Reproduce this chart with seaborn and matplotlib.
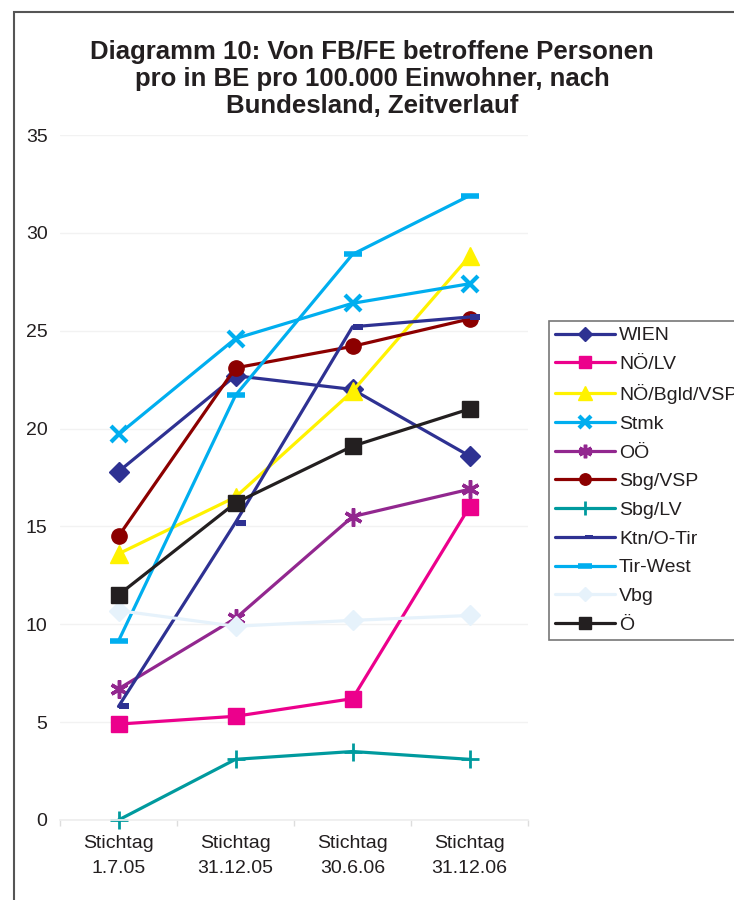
import numpy as np
import pandas as pd
import seaborn as sns
import matplotlib.pyplot as plt
from matplotlib.patches import Rectangle

# categories (x axis)
stichtage = ['Stichtag\n1.7.05', 'Stichtag\n31.12.05', 'Stichtag\n30.6.06', 'Stichtag\n31.12.06']

# series values
wien = [17.8, 22.7, 22.0, 18.6]
noe_lv = [4.9, 5.3, 6.2, 16.0]
noe_bgld_vsp = [13.6, 16.5, 21.9, 28.8]
stmk = [19.7, 24.6, 26.4, 27.4]
ooe = [6.7, 10.3, 15.5, 16.9]
sbg_vsp = [14.5, 23.1, 24.2, 25.6]
sbg_lv = [0.0, 3.1, 3.5, 3.1]
ktn_otir = [5.8, 15.2, 25.2, 25.7]
tir_west = [9.15, 21.7, 28.9, 31.9]
vbg = [10.7, 9.9, 10.2, 10.45]
oe = [11.5, 16.2, 19.1, 21.0]

series = {
    'WIEN': wien,
    'NÖ/LV': noe_lv,
    'NÖ/Bgld/VSP': noe_bgld_vsp,
    'Stmk': stmk,
    'OÖ': ooe,
    'Sbg/VSP': sbg_vsp,
    'Sbg/LV': sbg_lv,
    'Ktn/O-Tir': ktn_otir,
    'Tir-West': tir_west,
    'Vbg': vbg,
    'Ö': oe,
}

# dash marker that sits to the right of the point (as in the original)
half_dash = [(0, -0.28), (1, -0.28), (1, 0.28), (0, 0.28), (0, -0.28)]

# colour, marker, marker size, marker edge width
styles = {
    'WIEN': ('#2E3192', 'D', 10, 1),
    'NÖ/LV': ('#EC008C', 's', 11, 1),
    'NÖ/Bgld/VSP': ('#FFF200', '^', 13, 1),
    'Stmk': ('#00AEEF', 'x', 12, 3),
    'OÖ': ('#92278F', (6, 2, 0), 13, 2.5),
    'Sbg/VSP': ('#8C0000', 'o', 11, 1),
    'Sbg/LV': ('#009A9E', '+', 13, 2),
    'Ktn/O-Tir': ('#2E3192', half_dash, 15, 0),
    'Tir-West': ('#00AEEF', '_', 13, 4),
    'Vbg': ('#E6F2FB', 'D', 10, 1),
    'Ö': ('#231F20', 's', 11, 1),
}

df = pd.DataFrame(series)
df['x'] = np.arange(len(stichtage))
long = df.melt(id_vars='x', var_name='Bundesland', value_name='Wert')

sns.set_theme(style='white')
plt.rcParams['font.family'] = ['Liberation Sans', 'DejaVu Sans']

fig = plt.figure(figsize=(7.34, 9), dpi=100)
ax = fig.add_axes([60 / 734, 80 / 900, 468 / 734, 685 / 900])

for name, grp in long.groupby('Bundesland', sort=False):
    color, marker, ms, mew = styles[name]
    sns.lineplot(data=grp, x='x', y='Wert', ax=ax, color=color, linewidth=2.3,
                 marker=marker, markersize=ms, markeredgewidth=mew,
                 markeredgecolor=color, markerfacecolor=color,
                 label=name, clip_on=False, legend=False)

ax.set_xlim(-0.5, len(stichtage) - 0.5)
ax.set_ylim(0, 35)
ax.set_yticks(np.arange(0, 36, 5))
ax.set_xticks(np.arange(len(stichtage)))
ax.set_xticklabels(stichtage, fontsize=14, color='#231F20', linespacing=1.6)
ax.set_xticks(np.arange(-0.5, len(stichtage), 1), minor=True)
ax.tick_params(axis='y', labelsize=14, labelcolor='#231F20', length=0, pad=9)
ax.tick_params(axis='x', which='major', length=0, pad=11)
ax.tick_params(axis='x', which='minor', length=4, color='#dddddd', width=1, bottom=True)
ax.set_xlabel('')
ax.set_ylabel('')
ax.grid(axis='y', color='#f2f2f2', linewidth=1)
for side in ['top', 'right', 'left']:
    ax.spines[side].set_visible(False)
ax.spines['bottom'].set_color('#eeeeee')

# title
fig.text(372 / 734, 1 - 40 / 900,
         'Diagramm 10: Von FB/FE betroffene Personen\npro in BE pro 100.000 Einwohner, nach\nBundesland, Zeitverlauf',
         ha='center', va='top', fontsize=18.5, fontweight='bold', color='#231F20', linespacing=1.15)

# legend
handles, labels = ax.get_legend_handles_labels()
leg = fig.legend(handles, labels, loc='upper left', bbox_to_anchor=(549 / 734, 1 - 321 / 900),
                 fontsize=14, frameon=True, fancybox=False, edgecolor='#555555',
                 handlelength=3.1, handletextpad=0.2, labelspacing=0.57, markerscale=0.75,
                 borderpad=0.3, borderaxespad=0)
leg.get_frame().set_linewidth(1.2)
for txt in leg.get_texts():
    txt.set_color('#231F20')

# outer chart frame
fig.patches.append(Rectangle((14 / 734, -0.1), 2, 1.1 - 12 / 900, transform=fig.transFigure,
                             fill=False, edgecolor='#555555', linewidth=1.5))

fig.savefig('out.png', dpi=100)
